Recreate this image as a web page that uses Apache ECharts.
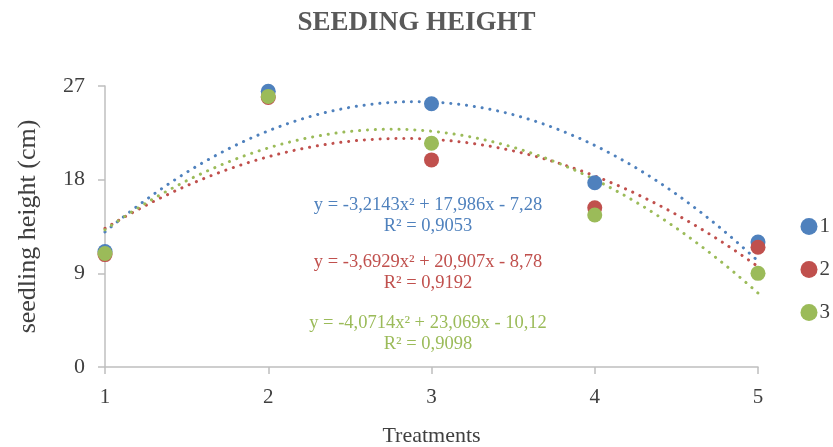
<!DOCTYPE html>
<html>
<head>
<meta charset="utf-8">
<script src="https://cdn.jsdelivr.net/npm/echarts@6/dist/echarts.min.js"></script>
<style>html,body{margin:0;padding:0;background:#fff}#c{width:833px;height:447px}</style>
</head>
<body>
<div id="c"></div>
<script>
const treatments = [1, 2, 3, 4, 5];
const seriesNames = ['1', '2', '3'];
const series1 = [11.1, 26.5, 25.3, 17.7, 12.0];
const series2 = [10.8, 25.9, 19.9, 15.3, 11.5];
const series3 = [10.9, 26.0, 21.5, 14.6, 9.0];
const yTicks = [0, 9, 18, 27];
const equations = [
  'y = -3,2143x² + 17,986x - 7,28',
  'y = -3,6929x² + 20,907x - 8,78',
  'y = -4,0714x² + 23,069x - 10,12'
];
const rSquared = ['R² = 0,9053', 'R² = 0,9192', 'R² = 0,9098'];
const colors = ['#4F81BD', '#C0504D', '#9BBB59'];
const FONT = '"Liberation Serif", "Times New Roman", serif';

// least-squares quadratic trendline from the plotted data
function quadFit(xs, ys) {
  let n = xs.length, s = [0,0,0,0,0], t = [0,0,0];
  for (let i = 0; i < n; i++) {
    const x = xs[i], y = ys[i];
    for (let k = 0; k <= 4; k++) s[k] += Math.pow(x, k);
    for (let k = 0; k <= 2; k++) t[k] += y * Math.pow(x, k);
  }
  const M = [[s[0], s[1], s[2], t[0]], [s[1], s[2], s[3], t[1]], [s[2], s[3], s[4], t[2]]];
  for (let i = 0; i < 3; i++) {
    for (let j = i + 1; j < 3; j++) {
      const f = M[j][i] / M[i][i];
      for (let k = i; k < 4; k++) M[j][k] -= f * M[i][k];
    }
  }
  const c = [0,0,0];
  for (let i = 2; i >= 0; i--) {
    let v = M[i][3];
    for (let k = i + 1; k < 3; k++) v -= M[i][k] * c[k];
    c[i] = v / M[i][i];
  }
  return c;
}
function trend(ys) {
  const c = quadFit(treatments, ys);
  const pts = [];
  const x0 = treatments[0], x1 = treatments[treatments.length - 1];
  const steps = 80;
  for (let i = 0; i <= steps; i++) {
    const x = x0 + (x1 - x0) * i / steps;
    pts.push([x, c[0] + c[1] * x + c[2] * x * x]);
  }
  return pts;
}

const allData = [series1, series2, series3];
const series = [];
allData.forEach((d, i) => {
  series.push({
    name: seriesNames[i] + ' trend', type: 'line', data: trend(d), showSymbol: false, smooth: false,
    lineStyle: { color: colors[i], width: 3, type: [0.1, 7.8], cap: 'round' },
    z: 1, silent: true
  });
});
allData.forEach((d, i) => {
  series.push({
    name: seriesNames[i], type: 'scatter', data: treatments.map((x, j) => [x, d[j]]),
    symbol: 'circle', symbolSize: 15, itemStyle: { color: colors[i], opacity: 1 }, z: 3
  });
});

const chart = echarts.init(document.getElementById('c'), null, { renderer: 'canvas' });
const eqY = [[205, 226], [262, 283], [323, 344]];
const graphics = [];
equations.forEach((e, i) => {
  graphics.push({ type: 'text', style: { text: e, fill: colors[i], font: '18.5px ' + FONT, textAlign: 'center', textVerticalAlign: 'middle' }, x: 428, y: eqY[i][0], z: 10 });
  graphics.push({ type: 'text', style: { text: rSquared[i], fill: colors[i], font: '18.5px ' + FONT, textAlign: 'center', textVerticalAlign: 'middle' }, x: 428, y: eqY[i][1], z: 10 });
});

chart.setOption({
  animation: false,
  backgroundColor: '#fff',
  title: { text: 'SEEDING HEIGHT', left: 'center', top: 5, textStyle: { fontFamily: FONT, fontSize: 27, fontWeight: 'bold', color: '#595959' } },
  grid: { left: 105, right: 75, top: 86, bottom: 80, outerBoundsMode: 'none', containLabel: false },
  legend: {
    data: seriesNames, orient: 'vertical', right: -2, top: 211, itemGap: 22, itemWidth: 17, itemHeight: 17, icon: 'circle',
    textStyle: { fontFamily: FONT, fontSize: 21, color: '#404040', padding: [0, 0, 0, -3] }
  },
  xAxis: {
    type: 'value', min: 1, max: 5, interval: 1,
    name: 'Treatments', nameLocation: 'middle', nameGap: 58,
    nameTextStyle: { fontFamily: FONT, fontSize: 22, color: '#404040' },
    axisLine: { lineStyle: { color: '#BFBFBF', width: 1.5 } },
    axisTick: { show: true, length: 7, lineStyle: { color: '#BFBFBF', width: 1.5 } },
    axisLabel: { fontFamily: FONT, fontSize: 21, color: '#404040', margin: 20 },
    splitLine: { show: false }
  },
  yAxis: {
    type: 'value', min: yTicks[0], max: yTicks[yTicks.length - 1], interval: 9,
    name: 'seedling height (cm)', nameLocation: 'middle', nameGap: 64,
    nameTextStyle: { fontFamily: FONT, fontSize: 26, color: '#404040' },
    axisLine: { show: true, lineStyle: { color: '#BFBFBF', width: 1.5 } },
    axisTick: { show: true, length: 7, lineStyle: { color: '#BFBFBF', width: 1.5 } },
    axisLabel: { fontFamily: FONT, fontSize: 22, color: '#404040', margin: 20 },
    splitLine: { show: false }
  },
  graphic: graphics,
  series: series
});
</script>
</body>
</html>
